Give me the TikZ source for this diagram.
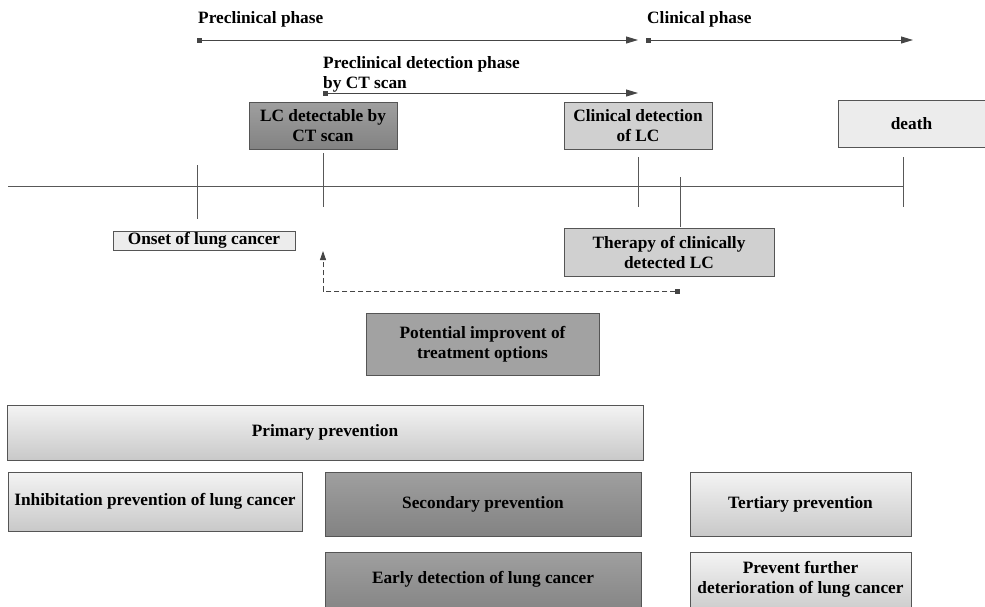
\documentclass[tikz,border=0pt]{standalone}
\usepackage{fontspec}
\setmainfont{Liberation Serif}
\usetikzlibrary{arrows.meta}
\definecolor{edge}{HTML}{555555}
\definecolor{ink}{HTML}{454545}
\definecolor{boxdark}{HTML}{8E8E8E}
\definecolor{boxmid}{HTML}{A2A2A2}
\definecolor{boxgrey}{HTML}{D0D0D0}
\definecolor{boxlight}{HTML}{ECECEC}
\tikzset{
  txt/.style={font=\bfseries\fontsize{17.3}{20}\selectfont, text=black},
  card/.style={txt, draw=edge, line width=0.9pt, align=center, inner sep=0pt},
  lightcard/.style={card, top color=boxlight!60!white, bottom color=boxlight!85!black},
  darkcard/.style={card, top color=boxdark!85!white, bottom color=boxdark!92!black},
  greycard/.style={card, fill=boxgrey},
  flatlight/.style={card, fill=boxlight},
  span/.style={ink, line width=0.9pt, {Square[length=5pt,width=5pt]}-{Triangle[length=12pt,width=7pt]}},
  tick/.style={ink!90, line width=0.8pt},
  axis/.style={ink!90, line width=0.8pt},
}
\begin{document}
\begin{tikzpicture}[x=1pt,y=-1pt]
\useasboundingbox (0,0) rectangle (985,606);
\clip (0,0) rectangle (985,606);

% phase spans at the top
\node[txt, anchor=base west, inner sep=0pt] (prelab) at (198,23) {Preclinical phase};
\node[txt, anchor=base west, inner sep=0pt] (clinlab) at (647,23) {Clinical phase};
\node[txt, anchor=base west, align=left, inner sep=0pt] (detlab) at (323,88) {Preclinical detection phase\\by CT scan};
\coordinate (pre0) at (197,40);  \coordinate (pre1) at (638,40);
\coordinate (cli0) at (646,40);  \coordinate (cli1) at (913,40);
\coordinate (det0) at (323,93);  \coordinate (det1) at (638,93);
\draw[span] (pre0) -- (pre1);
\draw[span] (cli0) -- (cli1);
\draw[span] (det0) -- (det1);

% event boxes above the timeline
\node[darkcard, minimum width=148pt, minimum height=47pt] (ctbox) at (323,125.5) {LC detectable by\\CT scan};
\node[greycard, minimum width=148pt, minimum height=47pt] (clinbox) at (638,125.5) {Clinical detection\\of LC};
\node[flatlight, minimum width=147pt, minimum height=47pt] (deathbox) at (911.5,123.5) {death};

% timeline with event ticks
\coordinate (ax0) at (8,186);   \coordinate (ax1) at (903,186);
\draw[axis] (ax0) -- (ax1);
\coordinate (t1a) at (197,165); \coordinate (t1b) at (197,219);
\coordinate (t2a) at (323,153); \coordinate (t2b) at (323,207);
\coordinate (t3a) at (638,157); \coordinate (t3b) at (638,207);
\coordinate (t4a) at (680,177); \coordinate (t4b) at (680,227);
\coordinate (t5a) at (903,157); \coordinate (t5b) at (903,207);
\draw[tick] (t1a) -- (t1b);
\draw[tick] (t2a) -- (t2b);
\draw[tick] (t3a) -- (t3b);
\draw[tick] (t4a) -- (t4b);
\draw[tick] (t5a) -- (t5b);

% event boxes below the timeline
\node[flatlight, minimum width=182pt, minimum height=19pt] (onset) at (204,240.5) {Onset of lung cancer};
\node[greycard, minimum width=210pt, minimum height=48pt] (therapy) at (669,252) {Therapy of clinically\\detected LC};

% feedback from therapy to earlier detection
\coordinate (fb0) at (680,291);
\coordinate (fb1) at (323,251);
\draw[ink, line width=0.8pt, dash pattern=on 5pt off 3pt, {Square[length=5pt,width=5pt]}-{Triangle[length=9pt,width=6pt]}]
  (fb0) -| (fb1);

\node[card, fill=boxmid, minimum width=233pt, minimum height=62pt] (potential) at (482.5,344) {Potential improvent of\\treatment options};

% prevention levels
\node[lightcard, minimum width=636pt, minimum height=55pt] (primary) at (325,432.5) {Primary prevention};
\node[lightcard, minimum width=294pt, minimum height=59pt] (inhib) at (155,501.5) {Inhibitation prevention of lung cancer};
\node[darkcard, minimum width=316pt, minimum height=64pt] (secondary) at (483,504) {Secondary prevention};
\node[darkcard, minimum width=316pt, minimum height=64pt] (early) at (483,584) {};
\node[txt] (earlytxt) at (483,579) {Early detection of lung cancer};
\node[lightcard, minimum width=221pt, minimum height=64pt] (tertiary) at (800.5,504) {Tertiary prevention};
\node[lightcard, minimum width=221pt, minimum height=64pt] (further) at (800.5,584) {};
\node[txt, align=center] (furthertxt) at (800.5,579) {Prevent further\\deterioration of lung cancer};
\end{tikzpicture}
\end{document}
